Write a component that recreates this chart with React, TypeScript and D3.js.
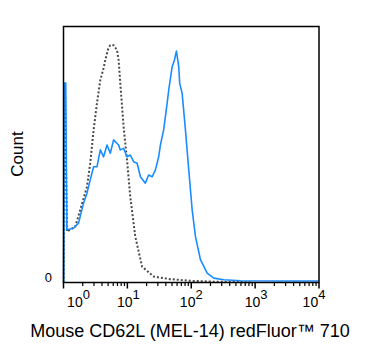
import React from "react";
import * as d3 from "d3";

// Stained sample (blue) – fluorescence values and normalized counts
const stainX = [1.007, 1.026, 1.083, 1.13, 1.435, 1.72, 2.06, 2.33, 2.62, 2.96, 3.34, 3.77, 4.24, 4.8, 5.4, 6.08, 7.29, 7.75, 8.73, 9.87, 11.1, 12.5, 14.2, 16.0, 19.1, 21.5, 24.4, 27.4, 30.9, 32.9, 37.0, 41.9, 44.4, 50.2, 54.5, 58.6, 63.7, 66.0, 72.0, 81.1, 91.4, 103.3, 116.4, 139.4, 177.6, 225.4, 323.4, 591, 2506, 9890];
const stainY = [0, 77.9, 77.9, 20.6, 21.2, 23.2, 31.0, 34.9, 40.1, 45.2, 45.2, 51.8, 49.1, 53.7, 50.5, 55.7, 53.7, 51.8, 52.4, 49.1, 49.8, 47.2, 46.6, 41.3, 38.8, 42.0, 41.3, 43.9, 49.1, 53.7, 59.6, 70.0, 75.2, 84.2, 86.9, 90.4, 84.2, 77.8, 73.9, 59.6, 44.0, 28.4, 17.9, 8.9, 3.7, 1.7, 1.05, 0.7, 0.6, 0.6];

// Isotype control (dotted grey)
const isoX = [1.007, 1.026, 1.06, 1.13, 1.274, 1.526, 1.828, 2.33, 2.62, 2.96, 3.34, 3.77, 4.24, 4.51, 5.03, 5.4, 6.08, 6.88, 7.29, 7.75, 8.73, 9.87, 11.1, 13.3, 17.0, 25.8, 47.2, 97.2, 240, 848];
const isoY = [0, 72, 72, 19.9, 20.6, 21.8, 28.4, 37.4, 46.6, 59.6, 70.0, 79.1, 83.7, 86.9, 91.5, 92.7, 92.7, 90.8, 86.9, 77.8, 60.8, 47.9, 33.5, 17.9, 6.2, 2.3, 1.3, 0.66, 0.3, 0.1];

const xMajor = [1, 10, 100, 1000, 10000];
const xExp = ["0", "1", "2", "3", "4"];
const yTicks = [0];
const yTickLabels = ["0"];
const xTitle = "Mouse CD62L (MEL-14) redFluor™ 710";
const yTitle = "Count";

const W = 375, H = 363;
const L = 63.5, R = 319, T = 26.5, B = 282.5;
const FONT = "Arial, 'Liberation Sans', Helvetica, sans-serif";

export default function App() {
  const x = d3.scaleLog().domain([1, 10000]).range([L, R]);
  const y = d3.scaleLinear().domain([0, 100]).range([B, T]);
  const line = d3.line<[number, number]>().x(d => x(d[0])).y(d => y(d[1]));
  const stain = stainX.map((v, i) => [v, stainY[i]] as [number, number]);
  const iso = isoX.map((v, i) => [v, isoY[i]] as [number, number]);

  const minor: number[] = [];
  for (let k = 0; k < 4; k++) for (let m = 2; m <= 9; m++) minor.push(m * Math.pow(10, k));
  const labelShift = [15, 1, 0, 1, -5];

  return (
    <svg width={W} height={H} style={{ position: "absolute", left: 0, top: 0, background: "#fff" }} fontFamily={FONT}>
      <path d={line(iso) || ""} fill="none" stroke="#4a4a4a" strokeWidth={2} strokeDasharray="2,2" />
      <path d={line(stain) || ""} fill="none" stroke="#1a8cff" strokeWidth={1.6} strokeLinejoin="round" />
      <rect x={L} y={T} width={R - L} height={B - T} fill="none" stroke="#000" strokeWidth={1.5} />
      {xMajor.map((v, i) => (
        <line key={"M" + i} x1={x(v)} x2={x(v)} y1={B} y2={B + 6} stroke="#000" strokeWidth={1.5} />
      ))}
      {minor.map((v, i) => (
        <line key={"m" + i} x1={x(v)} x2={x(v)} y1={B} y2={B + 3.5} stroke="#000" strokeWidth={1.2} />
      ))}
      {xMajor.map((v, i) => (
        <text key={"l" + i} x={x(v) + labelShift[i]} y={306.5} fontSize={14} textAnchor="middle" fill="#000">
          <tspan>10</tspan>
          <tspan dy={-8} fontSize={13}>{xExp[i]}</tspan>
        </text>
      ))}
      {yTicks.map((v, i) => (
        <text key={"y" + i} x={52} y={y(v) - 0.5} fontSize={13} textAnchor="end" fill="#000">{yTickLabels[i]}</text>
      ))}
      <text x={190} y={337} fontSize={18} textAnchor="middle" fill="#000">{xTitle}</text>
      <text transform={`translate(22.5,154) rotate(-90)`} fontSize={17} textAnchor="middle" fill="#000">{yTitle}</text>
    </svg>
  );
}
